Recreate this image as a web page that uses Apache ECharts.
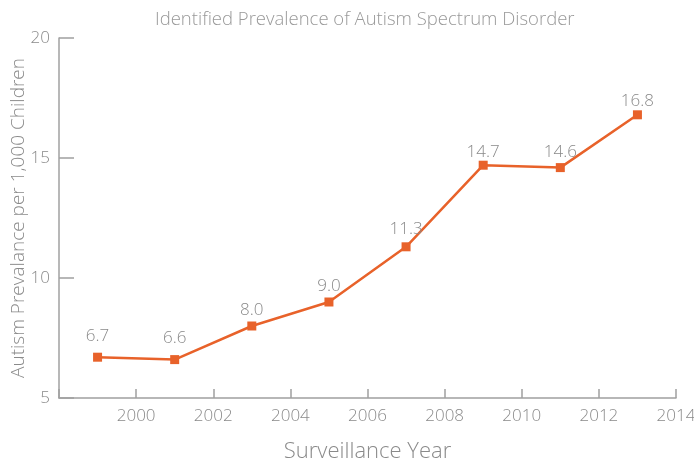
<!DOCTYPE html>
<html><head><meta charset="utf-8">
<script src="https://cdn.jsdelivr.net/npm/echarts@6/dist/echarts.min.js"></script>
<style>html,body{margin:0;padding:0;background:#fff}#c{width:694px;height:461px}</style>
</head><body><div id="c"></div>
<script>
const years = [1999, 2001, 2003, 2005, 2007, 2009, 2011, 2013];
const prevalence = [6.7, 6.6, 8.0, 9.0, 11.3, 14.7, 14.6, 16.8];
const valueLabels = ['6.7', '6.6', '8.0', '9.0', '11.3', '14.7', '14.6', '16.8'];
const title = 'Identified Prevalence of Autism Spectrum Disorder';
const xName = 'Surveillance Year';
const yName = 'Autism Prevalance per 1,000 Children';

// label gap above each marker (styling only)
const labelGap = [8, 8, 3, 3, 5, 0, 2, 1];

const font = '"Open Sans", sans-serif';
const gray = '#8a8a8a';
const chart = echarts.init(document.getElementById('c'));
chart.setOption({
  animation: false,
  title: { text: title, left: 150, top: 5,
    textStyle: { fontFamily: font, fontSize: 18.5, fontWeight: 300, color: '#999999' } },
  grid: { left: 59, right: 18, top: 38, bottom: 63, outerBoundsMode: 'none', containLabel: false },
  xAxis: {
    type: 'value', min: 1998, max: 2014, interval: 2,
    name: xName, nameLocation: 'middle', nameGap: 43, nameMoveOverlap: false,
    nameTextStyle: { fontFamily: font, fontSize: 22, fontWeight: 300, color: gray },
    axisLine: { show: true, lineStyle: { color: '#a0a0a0', width: 1.5 } },
    axisTick: { show: true, inside: true, length: 9, lineStyle: { color: '#a0a0a0', width: 1.5 } },
    axisLabel: { fontFamily: font, fontSize: 17, fontWeight: 300, color: gray, margin: 10,
      formatter: v => v === 1998 ? '' : String(v) },
    splitLine: { show: false }
  },
  yAxis: {
    type: 'value', min: 5, max: 20, interval: 5,
    name: yName, nameLocation: 'middle', nameGap: 31, nameMoveOverlap: false,
    nameTextStyle: { fontFamily: font, fontSize: 19, fontWeight: 300, color: gray },
    axisLine: { show: true, lineStyle: { color: '#a0a0a0', width: 1.5 } },
    axisTick: { show: true, inside: true, length: 15, lineStyle: { color: '#a0a0a0', width: 1.5 } },
    axisLabel: { fontFamily: font, fontSize: 17, fontWeight: 300, color: gray, margin: 9 },
    splitLine: { show: false }
  },
  series: [{
    type: 'line',
    data: years.map((y, i) => ({ value: [y, prevalence[i]], label: { distance: labelGap[i] } })),
    symbol: 'rect', symbolSize: 9,
    lineStyle: { color: '#e8622a', width: 2.5 },
    itemStyle: { color: '#e8622a' },
    label: { show: true, position: 'top', fontFamily: font, fontSize: 17, fontWeight: 300, color: gray,
      formatter: p => valueLabels[p.dataIndex] }
  }]
});
</script></body></html>
